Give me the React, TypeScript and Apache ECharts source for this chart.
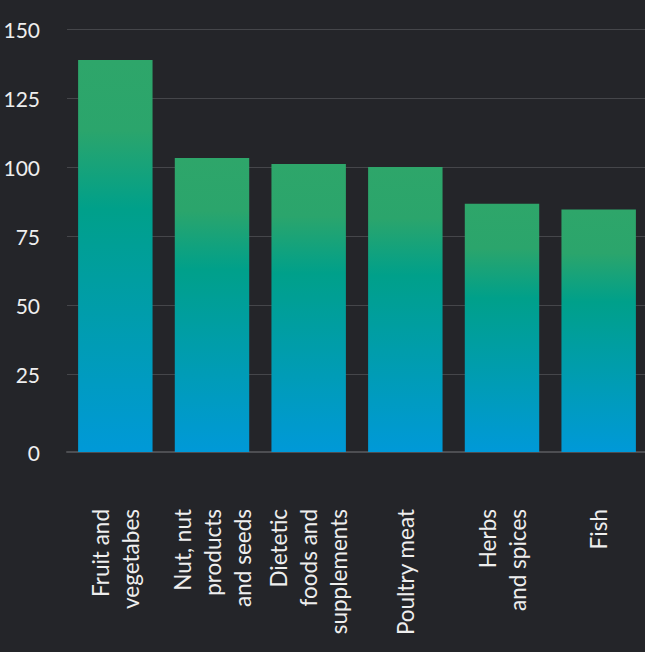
import React, { useEffect, useRef } from "react";
import * as echarts from "echarts";

const categories = [
  "Fruit and\nvegetabes",
  "Nut, nut\nproducts\nand seeds",
  "Dietetic\nfoods and\nsupplements",
  "Poultry meat",
  "Herbs\nand spices",
  "Fish",
];
const values = [138.8, 103.3, 101.1, 100, 86.7, 84.6];
const tickValues = [25, 50, 75, 100, 125, 150];
const axisBottom = -3.2;

export default function App() {
  const ref = useRef<HTMLDivElement>(null);
  useEffect(() => {
    if (!ref.current) return;
    const chart = echarts.init(ref.current, null, { renderer: "svg" });
    chart.setOption({
      animation: false,
      backgroundColor: "#242529",
      grid: { left: 67, right: -2, top: 29, bottom: 200, containLabel: false, outerBoundsMode: "none" },
      xAxis: {
        type: "category",
        data: categories,
        axisLine: { onZero: false, lineStyle: { color: "#4d4e52", width: 2 } },
        axisTick: { show: false },
        axisLabel: {
          rotate: 90,
          margin: 57,
          color: "#eeeeee",
          fontFamily: "Lato",
          fontSize: 22.5,
          lineHeight: 30,
          padding: [0, 0, 10, 0],
          interval: 0,
        },
      },
      yAxis: {
        type: "value",
        min: axisBottom,
        max: 150,
        startValue: axisBottom,
        axisLine: { show: false },
        axisTick: { show: false, customValues: tickValues },
        splitLine: { show: true, lineStyle: { color: "#45464a", width: 1 } },
        axisLabel: {
          customValues: [axisBottom, ...tickValues],
          formatter: (v: number) => (v < 0 ? "0" : String(v)),
          color: "#eeeeee",
          fontFamily: "Lato",
          fontSize: 21,
          margin: 27,
        },
      },
      series: [
        {
          type: "bar",
          data: values,
          barCategoryGap: "23%",
          itemStyle: {
            color: new echarts.graphic.LinearGradient(0, 0, 0, 1, [
              { offset: 0, color: "#2ea66a" },
              { offset: 0.18, color: "#2ba56c" },
              { offset: 0.38, color: "#00a08a" },
              { offset: 1, color: "#0099d8" },
            ]),
          },
        },
      ],
    });
    return () => chart.dispose();
  }, []);
  return (
    <div
      ref={ref}
      style={{ position: "fixed", left: 0, top: 0, width: 645, height: 652 }}
    />
  );
}
